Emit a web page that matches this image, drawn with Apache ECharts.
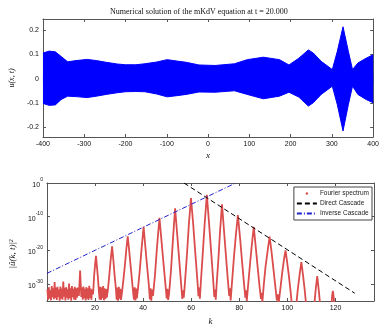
<!DOCTYPE html>
<html>
<head>
<meta charset="utf-8">
<script src="https://cdn.jsdelivr.net/npm/echarts@6/dist/echarts.min.js"></script>
<style>
  html, body { margin: 0; padding: 0; background: #fff; }
  #main { width: 382px; height: 327px; }
</style>
</head>
<body>
<div id="main"></div>
<script>
// top panel: envelope of the fast oscillation u(x, t)
const envX = [-400, -385, -370, -356, -340, -320, -293, -270, -247, -220, -200, -175, -153, -125, -99, -75, -53, -22,
  17, 64, 95, 134, 173, 196, 220, 243, 255, 274, 301, 313, 327, 340, 350, 363, 383, 400]
const envUpper = [0.105, 0.113, 0.110, 0.091, 0.069, 0.074, 0.079, 0.074, 0.067, 0.060, 0.057, 0.057, 0.061, 0.068, 0.078, 0.072, 0.067, 0.056,
  0.054, 0.061, 0.078, 0.088, 0.078, 0.056, 0.084, 0.118, 0.105, 0.071, 0.037, 0.111, 0.213, 0.111, 0.037, 0.064, 0.084, 0.098]
const envLower = [-0.102, -0.110, -0.108, -0.086, -0.072, -0.074, -0.078, -0.072, -0.065, -0.058, -0.054, -0.053, -0.054, -0.063, -0.075, -0.070, -0.065, -0.055,
  -0.056, -0.050, -0.065, -0.083, -0.072, -0.056, -0.076, -0.113, -0.099, -0.065, -0.031, -0.106, -0.215, -0.106, -0.031, -0.065, -0.086, -0.099]
const xTicksTop = [-400, -300, -200, -100, 0, 100, 200, 300, 400]
const yTicksTop = [-0.2, -0.1, 0, 0.1, 0.2]

// bottom panel: log10 |u^(k,t)|^2 against k
const specK = [
  0.2, 0.5, 0.8, 1.1, 1.4, 1.7, 2.0, 2.3, 2.6, 2.9, 3.2, 3.5, 3.8, 4.1, 4.4, 4.7, 5.0, 5.3, 5.6, 5.9, 6.2, 6.5, 6.8, 7.1, 7.4, 7.7,
  8.0, 8.3, 8.6, 8.9, 9.2, 9.5, 9.8, 10.1, 10.4, 10.7, 11.0, 11.3, 11.6, 11.9, 12.2, 12.5, 12.8,
  13.3, 13.8, 14.3,
  14.6, 14.9, 15.2, 15.5, 15.8, 16.1, 16.4, 16.7, 17.0, 17.3, 17.6, 17.9, 18.2, 18.5, 18.8,
  19.2, 19.6, 20.0, 20.4, 20.8, 21.2, 21.6, 21.9,
  22.2, 22.5, 22.8, 23.1, 23.4, 23.7, 24.0, 24.3, 24.6, 24.9,
  25.3, 25.8, 26.4, 27.1, 27.7, 28.2, 28.7, 29.0,
  29.3, 29.6, 29.9, 30.2, 30.5, 30.8,
  31.2, 31.8, 32.5, 33.0, 33.6, 34.2, 34.8, 35.4, 35.9, 36.2,
  36.5, 36.8, 37.1, 37.4,
  37.8, 38.5, 39.3, 40.2, 41.0, 41.7, 42.4, 42.8,
  43.1, 43.4, 43.7,
  44.1, 44.9, 45.8, 46.8, 47.7, 48.6, 49.4, 49.8,
  50.1, 50.4,
  50.8, 51.6, 52.4, 53.3, 54.2, 55.1, 55.9, 56.3,
  56.6, 56.9,
  57.3, 58.2, 59.0, 59.9, 60.8, 61.7, 62.6, 63.0,
  63.3, 63.6,
  64.0, 64.8, 65.6, 66.5, 67.4, 68.3, 69.1, 69.6,
  69.9, 70.2,
  70.6, 71.3, 72.0, 72.8, 73.6, 74.4, 75.2, 75.8,
  76.1, 76.4,
  76.9, 77.7, 78.5, 79.4, 80.3, 81.1, 81.9, 82.5,
  82.8, 83.1,
  83.6, 84.4, 85.2, 86.0, 86.8, 87.6, 88.4, 89.0,
  89.3, 89.6,
  90.2, 90.9, 91.8, 92.6, 93.4, 94.2, 95.0, 95.6,
  96.0, 96.3,
  97.0, 97.9, 98.6, 99.2, 99.8, 100.6, 101.3, 101.9,
  103.6, 104.3, 105.1, 105.8, 106.5, 107.2, 107.9,
  111.1, 111.7, 112.4, 113.1, 113.7,
  118.2, 118.6, 118.9, 119.2, 119.6
]
const specLog = [
  -31.5, -34.6, -30.9, -34.2, -31.8, -34.8, -30.6, -33.9, -31.2, -34.5, -29.4, -34.1, -31.0, -34.7, -30.8, -33.8, -31.6, -34.9, -30.7, -34.3, -31.3, -34.6, -29.2, -33.7, -31.1, -34.8,
  -30.9, -34.0, -31.5, -34.6, -29.8, -34.2, -31.2, -34.9, -30.6, -33.9, -31.4, -34.5, -30.8, -34.7, -31.2, -34.0, -31.0,
  -33.5, -26.0, -33.8,
  -31.0, -34.6, -30.7, -34.2, -31.4, -34.8, -30.9, -34.3, -31.2, -34.7, -30.5, -34.1, -31.3, -34.6, -31.6,
  -33.0, -27.8, -24.5, -21.6, -24.8, -28.0, -32.0, -34.5,
  -30.8, -34.7, -31.0, -34.2, -30.6, -34.8, -31.2, -34.4, -31.5, -34.0,
  -32.0, -28.5, -23.6, -18.8, -23.5, -27.8, -31.5, -34.6,
  -31.0, -34.9, -30.8, -34.3, -31.4, -34.7,
  -32.5, -28.8, -23.8, -19.8, -15.8, -20.0, -24.6, -29.0, -32.8, -34.6,
  -30.9, -34.8, -31.3, -34.2,
  -31.8, -26.8, -20.0, -13.0, -19.5, -25.0, -30.4, -34.5,
  -31.2, -34.9, -31.6,
  -33.5, -27.6, -18.8, -10.3, -17.6, -24.8, -31.0, -34.2,
  -31.4, -34.7,
  -32.8, -25.8, -16.8, -7.5, -15.5, -23.6, -30.8, -34.4,
  -31.8, -34.0,
  -30.5, -21.5, -12.5, -4.5, -12.0, -20.8, -29.2, -33.6,
  -31.0, -34.3,
  -29.5, -21.0, -12.0, -3.5, -11.8, -20.5, -28.4, -33.8,
  -31.6, -34.6,
  -29.8, -22.6, -14.2, -6.3, -13.8, -21.2, -28.5, -33.5,
  -31.2, -34.8,
  -30.0, -22.6, -16.0, -9.5, -16.2, -23.0, -29.4, -34.0,
  -31.8, -35.0,
  -30.8, -24.4, -18.4, -13.0, -18.8, -24.8, -30.6, -34.4,
  -32.6, -35.2,
  -30.0, -24.8, -20.0, -15.9, -20.4, -25.6, -30.8, -34.8,
  -33.0, -36.0,
  -31.8, -26.2, -22.6, -20.0, -23.0, -27.5, -32.0, -36.5,
  -37.0, -31.6, -27.0, -23.5, -27.4, -31.8, -37.0,
  -37.0, -32.0, -27.6, -32.2, -37.0,
  -37.0, -33.5, -32.0, -33.6, -37.0
]
const directK = [57, 128]
const directLog = [0, -32.7]
const inverseK = [0, 78.5]
const inverseLog = [-26.8, 0]
const kTicks = [20, 40, 60, 80, 100, 120]
const logTicks = [-30, -20, -10, 0]

const pairs = (xs, ys) => xs.map((x, i) => [x, ys[i]])

const axisColor = '#555'
const sans = 'Liberation Sans'
const serif = 'Liberation Serif'
const labelStyle = { fontSize: 7, fontFamily: sans, color: '#111' }

const myChart = echarts.init(document.getElementById('main'))

const baseX = (grid, min, max, ticks, extra) => Object.assign({
  type: 'value', gridIndex: grid, min: min, max: max,
  splitLine: { show: false },
  axisLine: { onZero: false, lineStyle: { color: axisColor, width: 1 } },
  axisTick: { inside: true, length: 3, customValues: ticks, lineStyle: { color: axisColor } },
  axisLabel: Object.assign({ margin: 4, customValues: ticks }, labelStyle),
}, extra)

myChart.setOption({
  animation: false,
  title: {
    text: 'Numerical solution of the mKdV equation at t = 20.000',
    left: 105, top: 3,
    textStyle: { fontFamily: serif, fontSize: 8, fontWeight: 'normal', color: '#111' },
  },
  legend: {
    orient: 'vertical', right: 10, top: 187,
    itemWidth: 20, itemHeight: 3, itemGap: 3,
    padding: [3, 3, 3, 2],
    borderColor: '#444', borderWidth: 1, backgroundColor: '#fff',
    textStyle: { fontSize: 6.5, fontFamily: sans, color: '#222', padding: [0, 0, 0, -2] },
    data: [
      { name: 'Fourier spectrum', lineStyle: { opacity: 0 } },
      { name: 'Direct Cascade', itemStyle: { opacity: 0 } },
      { name: 'Inverse Cascade', itemStyle: { opacity: 0 } },
    ],
  },
  grid: [
    { left: 31, right: 8, top: 19, height: 118 },
    { left: 31, right: 8, top: 183, height: 118 },
  ],
  xAxis: [
    baseX(0, -400, 400, xTicksTop, {
      name: 'x', nameLocation: 'middle', nameGap: 14,
      nameTextStyle: { fontFamily: serif, fontStyle: 'italic', fontSize: 9, color: '#111' },
    }),
    baseX(1, 0, 136, kTicks, {
      name: 'k', nameLocation: 'middle', nameGap: 16,
      nameTextStyle: { fontFamily: serif, fontStyle: 'italic', fontSize: 9, color: '#111' },
    }),
    baseX(0, -400, 400, xTicksTop, { position: 'top', axisLabel: { show: false } }),
    baseX(1, 0, 136, kTicks, { position: 'top', axisLabel: { show: false } }),
  ],
  yAxis: [
    baseX(0, -0.24, 0.245, yTicksTop, {
      name: 'u(x, t)', nameLocation: 'middle', nameGap: 19,
      nameTextStyle: { fontFamily: serif, fontStyle: 'italic', fontSize: 8, color: '#111' },
    }),
    baseX(1, -35, 0, logTicks, {
      name: '|û(k, t)|²', nameLocation: 'middle', nameGap: 23,
      nameTextStyle: { fontFamily: serif, fontStyle: 'italic', fontSize: 9, color: '#111', padding: [0, 0, 0, -24] },
      axisLabel: {
        margin: 4, customValues: logTicks,
        formatter: v => '{b|10}{s|' + v + '}',
        rich: {
          b: { fontSize: 7, fontFamily: sans, color: '#111', verticalAlign: 'bottom', lineHeight: 11 },
          s: { fontSize: 5, fontFamily: sans, color: '#111', verticalAlign: 'top', lineHeight: 11 },
        },
      },
    }),
    baseX(0, -0.24, 0.245, yTicksTop, { position: 'right', axisLabel: { show: false } }),
    baseX(1, -35, 0, logTicks, { position: 'right', axisLabel: { show: false } }),
  ],
  series: [
    {
      // upper edge, filled down a little past zero so the two halves overlap
      type: 'line', xAxisIndex: 0, yAxisIndex: 0, symbol: 'none',
      data: pairs(envX, envUpper),
      lineStyle: { color: '#0000ff', width: 1 },
      areaStyle: { color: '#0000ff', opacity: 1, origin: -0.02 },
    },
    {
      type: 'line', xAxisIndex: 0, yAxisIndex: 0, symbol: 'none',
      data: pairs(envX, envLower),
      lineStyle: { color: '#0000ff', width: 1 },
      areaStyle: { color: '#0000ff', opacity: 1, origin: 0.02 },
    },
    {
      name: 'Fourier spectrum', type: 'line', xAxisIndex: 1, yAxisIndex: 1,
      symbol: 'circle', symbolSize: 2, showSymbol: false,
      data: pairs(specK, specLog),
      itemStyle: { color: '#db4d4d' },
      lineStyle: { color: '#db4d4d', width: 1.8 },
    },
    {
      name: 'Direct Cascade', type: 'line', xAxisIndex: 1, yAxisIndex: 1, symbol: 'none',
      data: pairs(directK, directLog),
      itemStyle: { color: '#000' },
      lineStyle: { color: '#000', width: 1, type: [5, 3] },
    },
    {
      name: 'Inverse Cascade', type: 'line', xAxisIndex: 1, yAxisIndex: 1, symbol: 'none',
      data: pairs(inverseK, inverseLog),
      itemStyle: { color: '#2222cc' },
      lineStyle: { color: '#2222cc', width: 1, type: [5, 2, 1, 2] },
    },
  ],
})
</script>
</body>
</html>
